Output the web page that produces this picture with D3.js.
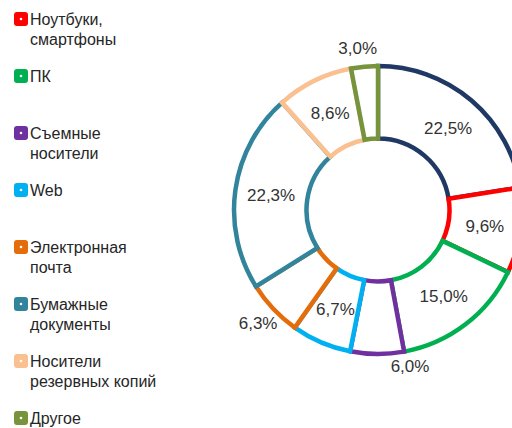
<!DOCTYPE html>
<html>
<head>
<meta charset="utf-8">
<script src="https://cdn.jsdelivr.net/npm/d3@7"></script>
<style>
  html, body { margin: 0; padding: 0; background: #fff; }
  svg { display: block; font-family: "Liberation Sans", Arial, sans-serif; }
</style>
</head>
<body>
<div id="chart"></div>
<script>
// Channel shares, clockwise from 12 o'clock
const categories = ["Внутренняя сеть", "Ноутбуки, смартфоны", "ПК", "Съемные носители", "Web",
    "Электронная почта", "Бумажные документы", "Носители резервных копий", "Другое"];
const shares = [22.5, 9.6, 15.0, 6.0, 6.7, 6.3, 22.3, 8.6, 3.0];
const colors = ["#1f3864", "#ff0000", "#00b050", "#7030a0", "#00b0f0",
    "#e46c0a", "#31849b", "#fac090", "#77933c"];
// legend lines (the first series' legend entry is cut off above the picture)
const legendLines = [null, ["Ноутбуки,", "смартфоны"], ["ПК"], ["Съемные", "носители"], ["Web"],
    ["Электронная", "почта"], ["Бумажные", "документы"], ["Носители", "резервных копий"], ["Другое"]];

const width = 512, height = 428;
const cx = 378, cy = 210;
const outerR = 144, innerR = 71.5;

// label placement: radius from centre, plus a small sideways nudge
const labelRadius = [108, 108, 108, 156, 108, 165, 108, 108, 163];
const labelDx = [0, 0, 0, 33, 0, 0, 0, 0, -5];

const svg = d3.select("#chart").append("svg")
    .attr("width", width)
    .attr("height", height);

const pie = d3.pie().sort(null).value(d => d)(shares);
const arc = d3.arc().innerRadius(innerR).outerRadius(outerR);

const g = svg.append("g").attr("transform", `translate(${cx},${cy})`);

g.selectAll("path.slice")
    .data(pie)
    .join("path")
    .attr("class", "slice")
    .attr("d", arc)
    .attr("fill", "#fff")
    .attr("stroke", (d, i) => colors[i])
    .attr("stroke-width", 4.5)
    .attr("stroke-linejoin", "miter");

const fmt = v => v.toFixed(1).replace(".", ",") + "%";

g.selectAll("text.lbl")
    .data(pie)
    .join("text")
    .attr("class", "lbl")
    .attr("x", (d, i) => Math.sin((d.startAngle + d.endAngle) / 2) * labelRadius[i] + labelDx[i])
    .attr("y", (d, i) => -Math.cos((d.startAngle + d.endAngle) / 2) * labelRadius[i])
    .attr("dy", "0.35em")
    .attr("text-anchor", "middle")
    .attr("font-size", 17)
    .attr("fill", "#333")
    .text(d => fmt(d.data));

// Legend
const legendTop = 19, legendStep = 57;
const legend = svg.append("g");
const items = legend.selectAll("g.item")
    .data(categories.map((c, i) => ({ name: c, i })).slice(1))
    .join("g")
    .attr("class", "item")
    .attr("transform", (d, k) => `translate(14,${legendTop + k * legendStep})`);

items.append("rect")
    .attr("x", 0).attr("y", -7)
    .attr("width", 14).attr("height", 14)
    .attr("rx", 3)
    .attr("fill", d => colors[d.i]);
items.append("circle")
    .attr("cx", 7).attr("cy", 0).attr("r", 1.3)
    .attr("fill", "#fff");

items.append("text")
    .attr("x", 16)
    .attr("y", 0)
    .attr("font-size", 16)
    .attr("fill", "#262626")
    .selectAll("tspan")
    .data(d => legendLines[d.i])
    .join("tspan")
    .attr("x", 16)
    .attr("dy", (t, k) => k === 0 ? "0.36em" : 20)
    .text(t => t);
</script>
</body>
</html>
